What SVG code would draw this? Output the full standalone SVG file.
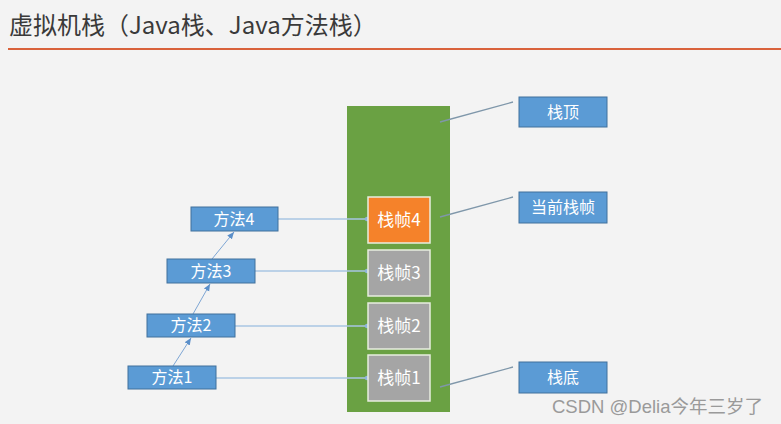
<svg xmlns="http://www.w3.org/2000/svg" width="781" height="424" viewBox="0 0 781 424">
<defs>
<style>
text{font-family:"Noto Sans CJK SC","Liberation Sans",sans-serif}
.title{font-size:24px;fill:#3a3a3a}
.blue{fill:#5b9bd5;stroke:#41719c;stroke-width:1}
.frame{fill:#a5a5a5;stroke:#e8eee0;stroke-width:1.5}
.cur{fill:#f5822a;stroke:#e8eee0;stroke-width:1.5}
.lbl{font-size:16px;fill:#ffffff;text-anchor:middle}
.flbl{font-size:17px;fill:#ffffff;text-anchor:middle}
.hl{stroke:#a9c6e3;stroke-width:1.3;fill:none}
.up{stroke:#7ea6d4;stroke-width:1;fill:none;marker-end:url(#ah)}
.call{stroke:#7f97aa;stroke-width:1.3;fill:none}
</style>
<marker id="ah" markerWidth="8" markerHeight="8" refX="7" refY="4" orient="auto" markerUnits="userSpaceOnUse">
<path d="M0,1 L7,4 L0,7 Z" fill="#5b8fc9"/>
</marker>
<marker id="dot" markerWidth="6" markerHeight="6" refX="3" refY="3" markerUnits="userSpaceOnUse">
<circle cx="3" cy="3" r="2.2" fill="#8fb4dc"/>
</marker>
</defs>
<rect width="781" height="424" fill="#f3f3f3"/>
<text class="title" x="9" y="34">虚拟机栈（Java栈、Java方法栈）</text>
<line x1="8" y1="49" x2="781" y2="49" stroke="#d9623b" stroke-width="2"/>

<g id="stack">
<rect x="347" y="106" width="103" height="306" fill="#6aa143"/>
</g>

<g id="connectors">
<line class="hl" x1="278" y1="219" x2="367" y2="219" marker-end="url(#dot)"/>
<line class="hl" x1="255" y1="271" x2="367" y2="271" marker-end="url(#dot)"/>
<line class="hl" x1="235" y1="326" x2="367" y2="326" marker-end="url(#dot)"/>
<line class="hl" x1="216" y1="378" x2="367" y2="378" marker-end="url(#dot)"/>
<line class="up" x1="173" y1="366" x2="191" y2="338"/>
<line class="up" x1="193" y1="314" x2="210" y2="284"/>
<line class="up" x1="212" y1="259" x2="234" y2="232"/>
<line class="call" x1="440" y1="122" x2="513" y2="102"/>
<line class="call" x1="440" y1="217" x2="513" y2="197"/>
<line class="call" x1="440" y1="387" x2="513" y2="367"/>
</g>

<g id="frame4"><rect class="cur" x="368" y="197" width="62" height="46"/><text class="flbl" x="399" y="226">栈帧4</text></g>
<g id="frame3"><rect class="frame" x="368" y="250" width="62" height="46"/><text class="flbl" x="399" y="279">栈帧3</text></g>
<g id="frame2"><rect class="frame" x="368" y="303" width="62" height="46"/><text class="flbl" x="399" y="332">栈帧2</text></g>
<g id="frame1"><rect class="frame" x="368" y="355" width="62" height="46"/><text class="flbl" x="399" y="384">栈帧1</text></g>

<g id="method4"><rect class="blue" x="191" y="207" width="87" height="24"/><text class="lbl" x="234" y="225">方法4</text></g>
<g id="method3"><rect class="blue" x="167" y="259" width="88" height="24"/><text class="lbl" x="211" y="277">方法3</text></g>
<g id="method2"><rect class="blue" x="147" y="314" width="88" height="23"/><text class="lbl" x="191" y="331">方法2</text></g>
<g id="method1"><rect class="blue" x="128" y="366" width="88" height="23"/><text class="lbl" x="172" y="383">方法1</text></g>

<g id="top"><rect class="blue" x="519" y="97" width="88" height="30"/><text class="lbl" x="563" y="118">栈顶</text></g>
<g id="current"><rect class="blue" x="519" y="192" width="88" height="31"/><text class="lbl" x="563" y="213">当前栈帧</text></g>
<g id="bottom"><rect class="blue" x="519" y="362" width="88" height="31"/><text class="lbl" x="563" y="383">栈底</text></g>

<text x="552" y="413" font-size="18.5" fill="#9a9a9a" style="font-family:'Liberation Sans','Noto Sans CJK SC',sans-serif">CSDN @Delia今年三岁了</text>
</svg>
